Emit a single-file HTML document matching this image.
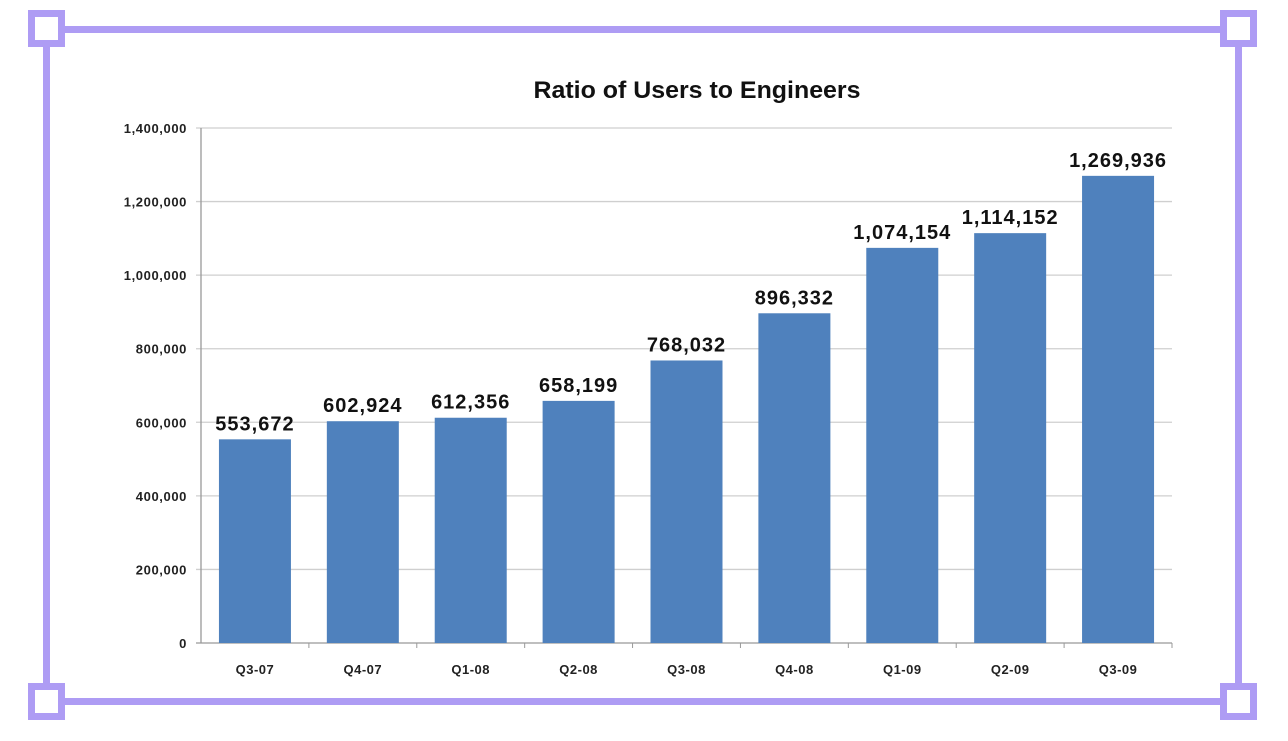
<!DOCTYPE html>
<html><head><meta charset="utf-8"><style>
body{margin:0;width:1288px;height:736px;background:#fff;overflow:hidden;font-family:"Liberation Sans",Arial,sans-serif}
</style></head><body>
<svg width="1288" height="736">
<g fill="none" stroke="#ae9cf4" stroke-width="7">
<line x1="46" y1="29.5" x2="1238" y2="29.5"/><line x1="46" y1="701.5" x2="1238" y2="701.5"/>
<line x1="46.5" y1="29" x2="46.5" y2="702"/><line x1="1238.5" y1="29" x2="1238.5" y2="702"/>
<rect x="31.5" y="13.5" width="30" height="30" fill="#fff"/><rect x="1223.5" y="13.5" width="30" height="30" fill="#fff"/>
<rect x="31.5" y="686.5" width="30" height="30" fill="#fff"/><rect x="1223.5" y="686.5" width="30" height="30" fill="#fff"/>
</g>
<text x="697" y="98" text-anchor="middle" font-size="24" font-weight="bold" fill="#111" textLength="327" lengthAdjust="spacingAndGlyphs">Ratio of Users to Engineers</text>
<g id="plot"></g>
</svg>
<script>
const categories=["Q3-07","Q4-07","Q1-08","Q2-08","Q3-08","Q4-08","Q1-09","Q2-09","Q3-09"];
const values=[553672,602924,612356,658199,768032,896332,1074154,1114152,1269936];
const ticks=[0,200000,400000,600000,800000,1000000,1200000,1400000];
const NS="http://www.w3.org/2000/svg";
const g=document.getElementById('plot');
const x0=201,x1=1172,y0=643,y1=128,max=1400000;
const y=v=>y0-(v/max)*(y0-y1);
const bw=(x1-x0)/categories.length;
const fmt=v=>v.toLocaleString('en-US');
function mk(t,a,txt){const e=document.createElementNS(NS,t);for(const k in a)e.setAttribute(k,a[k]);if(txt!==undefined)e.textContent=txt;g.appendChild(e);return e;}
ticks.forEach(t=>{
 const l=mk('line',{x1:x0-5,x2:x1,y1:y(t),y2:y(t),stroke:t?'#cfcfcf':'#999','stroke-width':1.3});
 
 
 const tx=mk('text',{x:x0-14,y:y(t)+5,'text-anchor':'end','font-size':13,'font-weight':'bold',fill:'#222','letter-spacing':0.6},fmt(t));
 
 
});
const ax=mk('line',{x1:x0,x2:x0,y1:y1,y2:y0,stroke:'#999','stroke-width':1.3});


categories.forEach((c,i)=>{
 const cx=x0+bw*(i+0.5),w=72;
 const tk=mk('line',{x1:x0+bw*(i+1),x2:x0+bw*(i+1),y1:y0,y2:y0+5,stroke:'#999'});
 
 
 const r=mk('rect',{x:cx-w/2,y:y(values[i]),width:w,height:y0-y(values[i]),fill:'#4f81bd'});
 
 
 const lb=mk('text',{x:cx,y:y(values[i])-9,'text-anchor':'middle','font-size':20,'font-weight':'bold',fill:'#111','letter-spacing':1},fmt(values[i]));
 
 
 const xl=mk('text',{x:cx,y:y0+31,'text-anchor':'middle','font-size':13,'font-weight':'bold',fill:'#222','letter-spacing':0.5},c);
 
 
});
</script>
</body></html>
